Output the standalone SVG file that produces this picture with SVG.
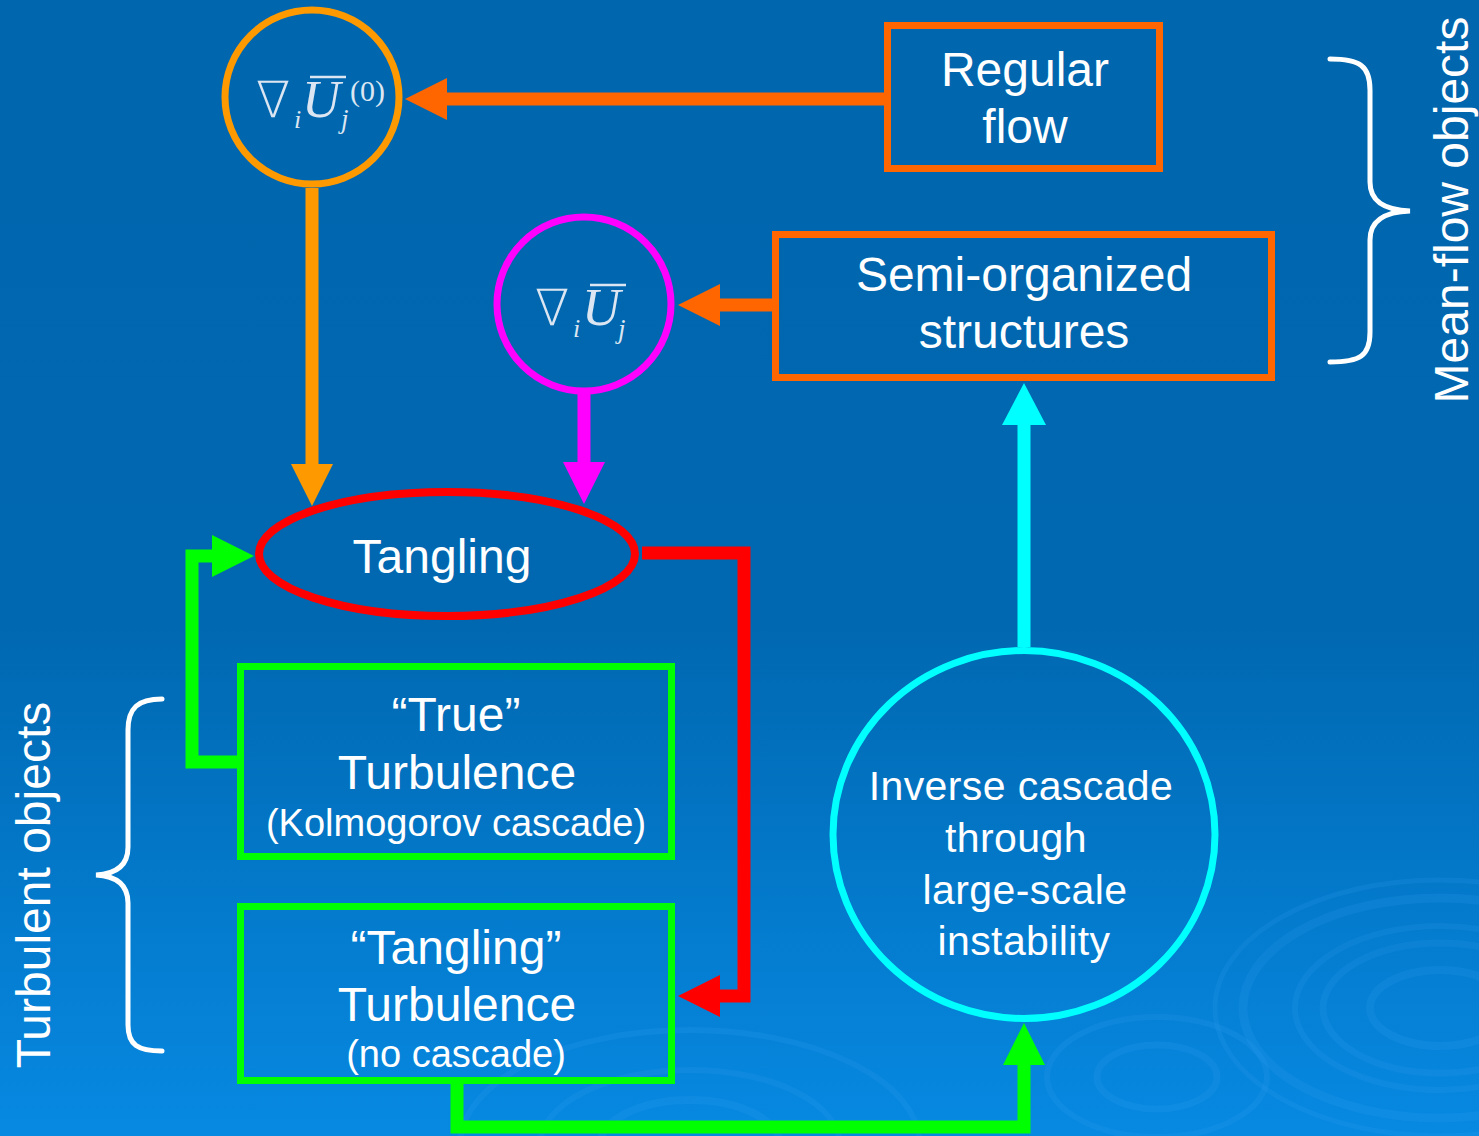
<svg xmlns="http://www.w3.org/2000/svg" width="1479" height="1136" viewBox="0 0 1479 1136">
<defs>
<linearGradient id="bg" x1="0" y1="0" x2="0" y2="1">
<stop offset="0" stop-color="#0066ae"/>
<stop offset="0.55" stop-color="#0068b1"/>
<stop offset="1" stop-color="#0789e2"/>
</linearGradient>
<marker id="mOrange" markerUnits="userSpaceOnUse" markerWidth="42" markerHeight="42" refX="0" refY="21" orient="auto"><path d="M0,0 L42,21 L0,42 z" fill="#ff6600"/></marker>
<marker id="mAmber" markerUnits="userSpaceOnUse" markerWidth="42" markerHeight="42" refX="0" refY="21" orient="auto"><path d="M0,0 L42,21 L0,42 z" fill="#ff9900"/></marker>
<marker id="mPink" markerUnits="userSpaceOnUse" markerWidth="42" markerHeight="42" refX="0" refY="21" orient="auto"><path d="M0,0 L42,21 L0,42 z" fill="#ff00ff"/></marker>
<marker id="mRed" markerUnits="userSpaceOnUse" markerWidth="42" markerHeight="42" refX="0" refY="21" orient="auto"><path d="M0,0 L42,21 L0,42 z" fill="#ff0000"/></marker>
<marker id="mGreen" markerUnits="userSpaceOnUse" markerWidth="42" markerHeight="42" refX="0" refY="21" orient="auto"><path d="M0,0 L42,21 L0,42 z" fill="#00ff00"/></marker>
<marker id="mCyan" markerUnits="userSpaceOnUse" markerWidth="44" markerHeight="44" refX="0" refY="22" orient="auto"><path d="M0,0 L42,22 L0,44 z" fill="#00ffff"/></marker>
</defs>
<style>
.t{font-family:"Liberation Sans",Arial,sans-serif;fill:#ffffff;text-anchor:middle}
.big{font-size:48px}
.mid{font-size:41px;letter-spacing:0.4px}
.sm{font-size:38px}
.m{font-family:"Liberation Serif","DejaVu Serif",serif;fill:#dce6f2}
.nab{font-family:"DejaVu Sans","Liberation Serif",sans-serif;font-weight:200;fill:#dce6f2}
.mi{font-style:italic}
.conn{fill:none;stroke-width:13;stroke-linejoin:miter}
.box{stroke-width:7}
.brace{fill:none;stroke:#ffffff;stroke-width:5;stroke-linecap:round}
.rip{fill:none;stroke:#3aa4f4;opacity:0.16}
</style>
<rect width="1479" height="1136" fill="url(#bg)"/>
<g id="ripples">
<ellipse class="rip" cx="1440" cy="1008" rx="70" ry="38" stroke-width="8"/>
<ellipse class="rip" cx="1440" cy="1008" rx="117" ry="65" stroke-width="7"/>
<ellipse class="rip" cx="1440" cy="1008" rx="145" ry="82" stroke-width="6"/>
<ellipse class="rip" cx="1440" cy="1008" rx="197" ry="110" stroke-width="9"/>
<ellipse class="rip" cx="1440" cy="1008" rx="225" ry="128" stroke-width="5"/>
<ellipse class="rip" cx="1157" cy="1077" rx="60" ry="32" stroke-width="7"/>
<ellipse class="rip" cx="1157" cy="1077" rx="110" ry="60" stroke-width="6"/>
<ellipse class="rip" cx="690" cy="1145" rx="90" ry="45" stroke-width="8"/>
<ellipse class="rip" cx="690" cy="1145" rx="150" ry="75" stroke-width="6"/>
<ellipse class="rip" cx="690" cy="1145" rx="230" ry="115" stroke-width="6"/>
</g>
<g id="connectors">
<path class="conn" stroke="#ff6600" d="M884,99 L447,99" marker-end="url(#mOrange)"/>
<path class="conn" stroke="#ff6600" d="M772,305 L720,305" marker-end="url(#mOrange)"/>
<path class="conn" stroke="#ff9900" d="M312,188 L312,464" marker-end="url(#mAmber)"/>
<path class="conn" stroke="#ff00ff" d="M584,394 L584,462" marker-end="url(#mPink)"/>
<path class="conn" stroke="#ff0000" d="M642,553 L744,553 L744,996 L720,996" marker-end="url(#mRed)"/>
<path class="conn" stroke="#00ff00" d="M237,762 L192,762 L192,556 L212,556" marker-end="url(#mGreen)"/>
<path class="conn" stroke="#00ff00" d="M457,1084 L457,1127 L1024,1127 L1024,1065" marker-end="url(#mGreen)"/>
<path class="conn" stroke="#00ffff" d="M1024,647 L1024,425" marker-end="url(#mCyan)"/>
</g>
<g id="node-grad0">
<circle cx="312" cy="97" r="87" fill="none" stroke="#ff9900" stroke-width="7"/>
<text class="nab" x="256" y="117" font-size="50">∇</text>
<text class="m mi" x="294" y="128" font-size="26">i</text>
<text class="m mi" x="302" y="117" font-size="53">U</text>
<line x1="310" y1="77" x2="346" y2="77" stroke="#dce6f2" stroke-width="2.5"/>
<text class="m mi" x="341" y="128" font-size="27">j</text>
<text class="m" x="350" y="101" font-size="30">(0)</text>
</g>
<g id="node-grad">
<circle cx="584" cy="304" r="87" fill="none" stroke="#ff00ff" stroke-width="7"/>
<text class="nab" x="535" y="325" font-size="50">∇</text>
<text class="m mi" x="573" y="337" font-size="26">i</text>
<text class="m mi" x="582" y="325" font-size="53">U</text>
<line x1="590" y1="285" x2="626" y2="285" stroke="#dce6f2" stroke-width="2.5"/>
<text class="m mi" x="618" y="338" font-size="27">j</text>
</g>
<g id="node-regular">
<rect x="887.5" y="25.5" width="272" height="143" fill="none" stroke="#ff6600" class="box"/>
<text class="t big" x="1025" y="86">Regular</text>
<text class="t big" x="1025" y="143">flow</text>
</g>
<g id="node-semi">
<rect x="775.5" y="234.5" width="496" height="143" fill="none" stroke="#ff6600" class="box"/>
<text class="t big" x="1024" y="291">Semi-organized</text>
<text class="t big" x="1024" y="348">structures</text>
</g>
<g id="node-tangling">
<ellipse cx="447" cy="554" rx="188" ry="62" fill="none" stroke="#ff0000" stroke-width="8"/>
<text class="t big" x="442" y="573">Tangling</text>
</g>
<g id="node-true">
<rect x="240.5" y="666.5" width="431" height="190" fill="none" stroke="#00ff00" class="box"/>
<text class="t big" x="456" y="731">“True”</text>
<text class="t big" x="457" y="789">Turbulence</text>
<text class="t sm" x="456" y="836">(Kolmogorov cascade)</text>
</g>
<g id="node-tangturb">
<rect x="240.5" y="906.5" width="431" height="174" fill="none" stroke="#00ff00" class="box"/>
<text class="t big" x="456" y="964">“Tangling”</text>
<text class="t big" x="457" y="1021">Turbulence</text>
<text class="t sm" x="456" y="1067">(no cascade)</text>
</g>
<g id="node-inverse">
<ellipse cx="1024" cy="834.5" rx="191" ry="184" fill="none" stroke="#00ffff" stroke-width="7"/>
<text class="t mid" x="1021" y="800">Inverse cascade</text>
<text class="t mid" x="1016" y="852">through</text>
<text class="t mid" x="1025" y="904">large-scale</text>
<text class="t mid" x="1024" y="955">instability</text>
</g>
<g id="label-meanflow">
<path class="brace" d="M1330,59 C1360,59 1370,66 1370,90 L1370,182 C1370,202 1385,210 1410,211 C1385,212 1370,220 1370,240 L1370,332 C1370,356 1360,362 1330,362"/>
<text class="t big" transform="translate(1468,210) rotate(-90)">Mean-flow objects</text>
</g>
<g id="label-turbulent">
<path class="brace" d="M162,699 C138,699 128,708 128,730 L128,847 C128,866 115,874 96,875 C115,876 128,884 128,903 L128,1025 C128,1045 138,1051 162,1051"/>
<text class="t big" transform="translate(50,885) rotate(-90)">Turbulent objects</text>
</g>
</svg>
